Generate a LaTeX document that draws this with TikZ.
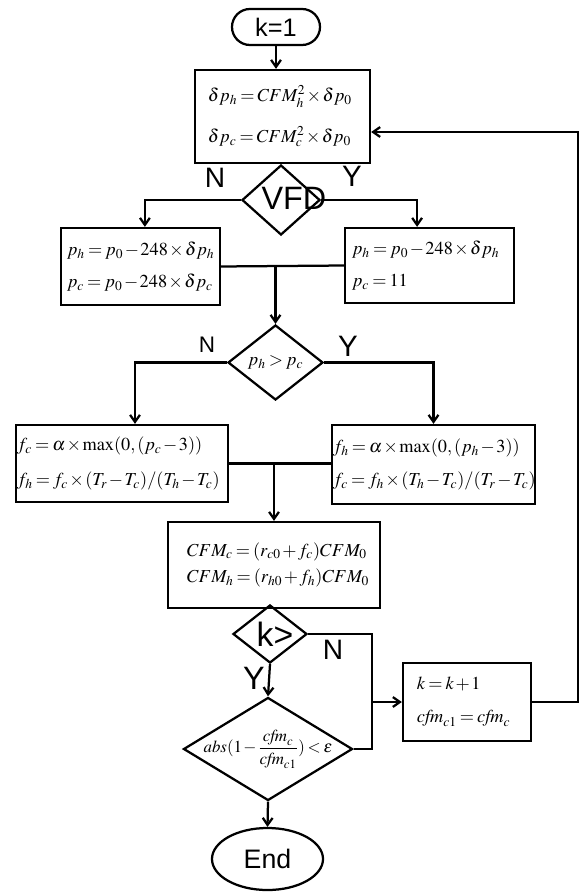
\documentclass[tikz,border=0pt]{standalone}
\usepackage{amsmath}
\usepackage{mathptmx}
\usepackage[no-math]{fontspec}
\newfontfamily\labfont{Liberation Sans}
\usetikzlibrary{arrows.meta,shapes.geometric,positioning}

\newcommand{\tightmath}{\thickmuskip=3mu\medmuskip=1.5mu\relpenalty=10000\binoppenalty=10000\relax}

\tikzset{
  every picture/.style={x=0.025cm,y=-0.025cm,line width=1.6pt,>={Straight Barb[length=5pt,width=7pt]}},
  mathtxt/.style={font=\fontsize{13}{16}\selectfont,execute at begin node=\tightmath},
  proc/.style={draw,rectangle,align=left,inner ysep=0pt,mathtxt},
  decision/.style={draw,diamond,inner sep=0pt,mathtxt},
  term/.style={draw,rectangle,rounded corners=0.45cm,minimum width=2.2cm,minimum height=0.9cm,inner sep=0pt},
  yn/.style={inner sep=0pt,font=\labfont\fontsize{#1}{#1}\selectfont}
}

\begin{document}
\begin{tikzpicture}
\useasboundingbox (0,0) rectangle (579,892);

\node[term,yn=18] (start) at (276,27) {k=1};
\node[proc,minimum height=2.325cm,text width=3.725cm,inner xsep=0.325cm] (dp) at (282.5,116.5)
  {$\delta p_h=CFM_h^2\times\delta p_0$\\[13pt]$\delta p_c=CFM_c^2\times\delta p_0$};

\node[decision,minimum width=1.95cm,minimum height=1.75cm] (vfd) at (281,200) {};
\node[yn=23] (vfdt) at (294,198) {VFD};
\node[yn=20] (n1) at (215,178) {N};
\node[yn=21] (y1) at (352,176) {Y};

\node[proc,minimum height=1.925cm,text width=3.675cm,inner xsep=0.15cm] (pl) at (140.5,266.5)
  {$p_h=p_0-248\times\delta p_h$\\[7pt]$p_c=p_0-248\times\delta p_c$};
\node[proc,minimum height=1.875cm,text width=3.875cm,inner xsep=0.175cm] (pr) at (429.5,265.5)
  {$p_h=p_0-248\times\delta p_h$\\[7pt]$p_c=11$};

\node[decision,minimum width=2.375cm,minimum height=1.875cm] (cmp) at (275.5,362.5) {\makebox[0pt]{$p_h>p_c$}};
\node[yn=16] (n2) at (207,345) {N};
\node[yn=21] (y2) at (348,346) {Y};

\node[proc,minimum height=1.925cm,text width=5.25cm,inner xsep=0.025cm] (fl) at (122,463.5)
  {$f_c=\alpha\times\max(0,(p_c-3))$\\[9pt]$f_h=f_c\times(T_r-T_c)/(T_h-T_c)$};
\node[proc,minimum height=1.975cm,text width=5.025cm,inner xsep=0.025cm] (fr) at (433.5,464.5)
  {$f_h=\alpha\times\max(0,(p_h-3))$\\[8pt]$f_c=f_h\times(T_h-T_c)/(T_r-T_c)$};

\node[proc,minimum height=2.15cm,text width=4.35cm,inner xsep=0.475cm] (cfm) at (274,565)
  {$CFM_c=(r_{c0}+f_c)CFM_0$\\[3pt]$CFM_h=(r_{h0}+f_h)CFM_0$};

\node[decision,minimum width=1.85cm,minimum height=1.45cm] (kchk) at (270,634) {};
\node[yn=24] (kchkt) at (275,634) {k>};
\node[yn=20] (n3) at (333,650) {N};
\node[yn=23] (y3) at (254,678) {Y};

\node[decision,minimum width=4.225cm,minimum height=2.575cm,font=\fontsize{12}{15}\selectfont] (conv) at (268,749)
  {\makebox[0pt]{$\mathit{abs}(1-\dfrac{\mathit{cfm}_c}{\mathit{cfm}_{c1}})<\varepsilon$}};
\node[draw,ellipse,inner sep=0pt,minimum width=2.775cm,minimum height=1.55cm,yn=19] (fin) at (267.5,859) {End};

\node[proc,minimum height=1.95cm,text width=2.5cm,inner xsep=0.35cm] (inc) at (467,702)
  {$k=k+1$\\[7pt]$\mathit{cfm}_{c1}=\mathit{cfm}_c$};

\coordinate (nbus) at (372,702);
\coordinate (fbtop) at (578,132);

\draw[->] (start) -- (start |- dp.north);
\draw[->] (vfd.west) -| ([xshift=0.11cm]pl.north);
\draw[->] (vfd.east) -| ([xshift=-0.31cm]pr.north);
\draw (pl.east) -- (pr.west);
\draw[->] (cmp.north |- pl.east) -- (cmp.north);
\draw[->] (cmp.west) -| ([xshift=0.325cm]fl.north);
\draw[->] (cmp.east) -| (fr.north);
\draw (fl.east) -- (fl.east -| fr.west);
\draw[->] (cfm.north |- fl.east) -- (cfm.north);
\draw (kchk.east) -| (nbus) |- (conv.east);
\draw[->] (nbus) -- (inc.west);
\draw[->] (kchk.south) -- (conv.north);
\draw[->] (conv.south) -- (fin.north);
\draw[->] (inc.east) -| (fbtop) -- (fbtop -| dp.east);

\end{tikzpicture}
\end{document}
